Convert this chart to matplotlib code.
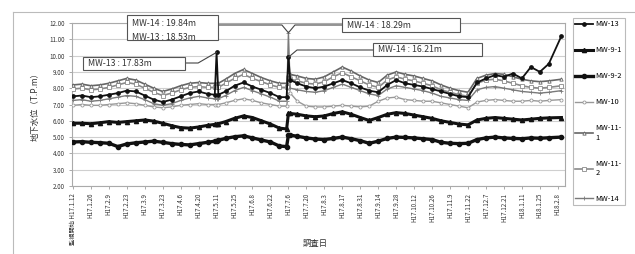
import matplotlib
matplotlib.use("Agg")
import matplotlib.pyplot as plt
from matplotlib.patches import Rectangle
from matplotlib.lines import Line2D

plt.rcParams['font.family'] = ['Noto Sans CJK JP', 'DejaVu Sans']

# observation position along the date axis (in units of tick intervals)
obs_t = [0, 0.5, 1, 1.5, 2, 2.5, 3, 3.5, 4, 4.5, 5, 5.5, 6, 6.5, 7, 7.5,
         7.9, 8.0, 8.1, 8.5, 9, 9.5, 10, 10.5, 11, 11.5, 11.9, 12.0, 12.1,
         12.5, 13, 13.5, 14, 14.5, 15, 15.5, 16, 16.5, 17, 17.5, 18, 18.5,
         19, 19.5, 20, 20.5, 21, 21.5, 22, 22.5, 23, 23.5, 24, 24.5, 25,
         25.5, 26, 26.5, 27.2]

tick_labels = ["監視開始 H17.1.12", "H17.1.26", "H17.2.9", "H17.2.23", "H17.3.9",
               "H17.3.23", "H17.4.6", "H17.4.20", "H17.5.11", "H17.5.25",
               "H17.6.8", "H17.6.22", "H17.7.6", "H17.7.20", "H17.8.3",
               "H17.8.17", "H17.8.31", "H17.9.14", "H17.9.28", "H17.10.12",
               "H17.10.26", "H17.11.9", "H17.11.22", "H17.12.7", "H17.12.21",
               "H18.1.11", "H18.1.25", "H18.2.8"]

mw13 = [7.50, 7.55, 7.45, 7.50, 7.60, 7.70, 7.85, 7.80, 7.55, 7.30, 7.15, 7.30,
        7.50, 7.70, 7.80, 7.65, 7.60, 10.20, 7.60, 7.80, 8.15, 8.35, 8.10, 7.90,
        7.70, 7.45, 7.45, 9.90, 8.50, 8.30, 8.10, 8.00, 8.10, 8.30, 8.50, 8.30,
        8.05, 7.85, 7.75, 8.20, 8.50, 8.30, 8.20, 8.10, 7.95, 7.80, 7.65, 7.50,
        7.45, 8.35, 8.60, 8.80, 8.70, 8.90, 8.60, 9.30, 9.00, 9.50, 11.20]
mw9_1 = [5.85, 5.85, 5.82, 5.88, 5.95, 5.90, 5.95, 6.00, 6.05, 5.98, 5.85, 5.70,
         5.58, 5.55, 5.62, 5.72, 5.78, 5.80, 5.82, 5.95, 6.15, 6.30, 6.20, 6.00,
         5.80, 5.55, 5.50, 6.45, 6.45, 6.40, 6.30, 6.25, 6.30, 6.45, 6.55, 6.40,
         6.20, 6.02, 6.20, 6.40, 6.50, 6.45, 6.35, 6.25, 6.15, 6.00, 5.90, 5.80,
         5.75, 6.05, 6.15, 6.20, 6.15, 6.10, 6.05, 6.10, 6.15, 6.18, 6.20]
mw9_2 = [4.70, 4.72, 4.68, 4.66, 4.62, 4.42, 4.58, 4.65, 4.70, 4.75, 4.68, 4.60,
         4.55, 4.52, 4.60, 4.68, 4.75, 4.78, 4.80, 4.92, 5.02, 5.08, 4.95, 4.82,
         4.70, 4.45, 4.42, 5.12, 5.12, 5.05, 4.95, 4.88, 4.85, 4.92, 5.00, 4.90,
         4.78, 4.62, 4.75, 4.92, 5.00, 4.98, 4.95, 4.90, 4.85, 4.68, 4.62, 4.60,
         4.62, 4.85, 4.95, 5.00, 4.95, 4.92, 4.90, 4.95, 4.93, 4.96, 5.00]
mw10 = [6.95, 7.00, 6.95, 6.95, 7.00, 7.05, 7.10, 7.05, 6.95, 6.85, 6.80, 6.85,
        6.95, 7.00, 7.05, 7.00, 7.00, 7.00, 7.00, 7.10, 7.25, 7.35, 7.25, 7.10,
        7.00, 6.90, 6.90, 7.80, 7.70, 7.20, 6.90, 6.85, 6.85, 6.90, 6.95, 6.90,
        6.85, 6.90, 7.20, 7.40, 7.45, 7.30, 7.25, 7.20, 7.20, 7.10, 7.00, 6.90,
        6.80, 7.15, 7.25, 7.30, 7.25, 7.20, 7.20, 7.25, 7.20, 7.25, 7.30]
mw11_1 = [8.20, 8.25, 8.15, 8.20, 8.30, 8.45, 8.60, 8.50, 8.25, 8.00, 7.80, 7.95,
          8.15, 8.30, 8.35, 8.30, 8.30, 8.30, 8.30, 8.55, 8.90, 9.15, 8.90, 8.65,
          8.45, 8.30, 8.30, 8.90, 8.85, 8.75, 8.60, 8.55, 8.70, 9.00, 9.30, 9.05,
          8.75, 8.50, 8.35, 8.80, 9.00, 8.85, 8.75, 8.60, 8.45, 8.20, 8.00, 7.85,
          7.75, 8.60, 8.80, 8.90, 8.85, 8.70, 8.55, 8.45, 8.40, 8.45, 8.55]
mw11_2 = [7.95, 8.00, 7.90, 7.95, 8.05, 8.20, 8.35, 8.25, 8.00, 7.75, 7.55, 7.70,
          7.90, 8.05, 8.10, 8.05, 8.05, 8.05, 8.05, 8.30, 8.60, 8.85, 8.60, 8.40,
          8.20, 8.05, 8.05, 8.60, 8.55, 8.45, 8.30, 8.25, 8.40, 8.70, 8.95, 8.70,
          8.45, 8.20, 8.05, 8.50, 8.70, 8.55, 8.45, 8.30, 8.15, 7.90, 7.75, 7.60,
          7.50, 8.30, 8.50, 8.55, 8.45, 8.30, 8.15, 8.05, 8.00, 8.05, 8.15]
mw14 = [7.25, 7.30, 7.20, 7.25, 7.35, 7.45, 7.55, 7.50, 7.30, 7.05, 6.95, 7.05,
        7.25, 7.40, 7.50, 7.40, 7.35, 7.35, 7.35, 7.55, 7.85, 8.05, 7.85, 7.65,
        7.45, 7.20, 7.20, 11.40, 8.00, 7.90, 7.80, 7.75, 7.85, 8.05, 8.25, 8.05,
        7.85, 7.65, 7.55, 7.95, 8.15, 8.05, 7.95, 7.85, 7.70, 7.50, 7.40, 7.30,
        7.25, 7.90, 8.05, 8.10, 8.00, 7.90, 7.80, 7.75, 7.70, 7.75, 7.85]

W, H = 635, 254
fig = plt.figure(figsize=(6.35, 2.54), dpi=100)
fig.patch.set_facecolor("white")
ax = fig.add_axes([72 / W, 1 - 186 / H, 493 / W, 163 / H])

# outer chart frame
fig.add_artist(Line2D([13 / W, 13 / W], [0, 1 - 12 / H], color="#bbbbbb", lw=0.8))
fig.add_artist(Line2D([13 / W, 1], [1 - 12 / H, 1 - 12 / H], color="#bbbbbb", lw=0.8))

ax.plot(obs_t, mw11_2, color="#8a8a8a", lw=1.2, marker="s", ms=2.2, mfc="white", mew=0.6, label="MW-11-\n2", zorder=3)
ax.plot(obs_t, mw11_1, color="#666666", lw=1.2, marker="^", ms=2.4, mfc="white", mew=0.6, label="MW-11-\n1", zorder=3)
ax.plot(obs_t, mw14, color="#7a7a7a", lw=1.0, marker="+", ms=2.5, mew=0.6, label="MW-14", zorder=3)
ax.plot(obs_t, mw10, color="#999999", lw=1.0, marker="o", ms=2.2, mfc="white", mew=0.6, label="MW-10", zorder=3)
ax.plot(obs_t, mw13, color="#111111", lw=1.3, marker="o", ms=2.4, label="MW-13", zorder=4)
ax.plot(obs_t, mw9_1, color="#111111", lw=2.2, marker="^", ms=3, label="MW-9-1", zorder=4)
ax.plot(obs_t, mw9_2, color="#111111", lw=2.4, marker="o", ms=3, label="MW-9-2", zorder=4)

ax.set_ylim(2, 12)
ax.set_xlim(-0.05, 27.4)
ax.set_yticks(range(2, 13))
ax.set_yticklabels(["%.2f" % v for v in range(2, 13)], fontsize=4.5, color="#333333")
ax.set_xticks(range(len(tick_labels)))
ax.set_xticklabels(tick_labels, rotation=90, fontsize=4.5, color="#333333")
ax.tick_params(axis="both", length=2, width=0.5, color="#888888", pad=3)
ax.grid(axis="y", color="#cfcfcf", lw=0.8)
ax.set_axisbelow(True)
for s in ax.spines.values():
    s.set_color("#aaaaaa")
    s.set_linewidth(0.8)

ax.set_ylabel("地下水位（T.P.m）", fontsize=6, color="#333333")
ax.yaxis.set_label_coords(-0.065, 0.5)
fig.text(315 / W, 1 - 243 / H, "調査日", fontsize=6, ha="center", va="center", color="#333333")

# legend at the right edge
order = ["MW-13", "MW-9-1", "MW-9-2", "MW-10", "MW-11-\n1", "MW-11-\n2", "MW-14"]
hs, ls = ax.get_legend_handles_labels()
lookup = dict(zip(ls, hs))
leg = ax.legend([lookup[k] for k in order], order, loc="upper left",
                bbox_to_anchor=(569 / W, 1 - 14 / H), bbox_transform=fig.transFigure,
                fontsize=5.4, frameon=True, fancybox=False, edgecolor="#aaaaaa",
                handlelength=2.3, labelspacing=2.4, borderpad=0.35, handletextpad=0.4)
leg.get_frame().set_linewidth(0.8)


# annotation boxes (figure pixel layout, top-down y)
def box(x0, y0, x1, y1):
    fig.add_artist(Rectangle((x0 / W, 1 - y1 / H), (x1 - x0) / W, (y1 - y0) / H,
                             transform=fig.transFigure, fc="white", ec="#555555", lw=0.8, zorder=6))


def label(x, y, s):
    fig.text(x / W, 1 - y / H, s, fontsize=6.3, ha="left", va="center", color="#333333", zorder=7)


def link(x, y, ti, series, aa, ab):
    ax.annotate("", xy=(obs_t[ti], series[ti]), xycoords="data",
                xytext=(x, H - y), textcoords="figure pixels",
                arrowprops=dict(arrowstyle="-", color="#444444", lw=0.8, shrinkA=0, shrinkB=0,
                                connectionstyle="angle,angleA=%d,angleB=%d,rad=0" % (aa, ab)),
                annotation_clip=False, zorder=5)


box(127, 15, 218, 40)
label(132, 23, "MW-14 : 19.84m")
label(132, 37, "MW-13 : 18.53m")
link(218, 25, 27, mw14, 0, 130)

box(83, 57, 185, 70)
label(88, 63.5, "MW-13 : 17.83m")
link(185, 63, 17, mw13, 0, 210)

box(342, 18, 460, 32)
label(347, 25, "MW-14 : 18.29m")
link(342, 25, 27, mw14, 0, 50)

box(373, 43, 482, 56)
label(378, 49.5, "MW-14 : 16.21m")
link(373, 50, 27, mw13, 0, 40)

fig.savefig("out.png", dpi=100)
